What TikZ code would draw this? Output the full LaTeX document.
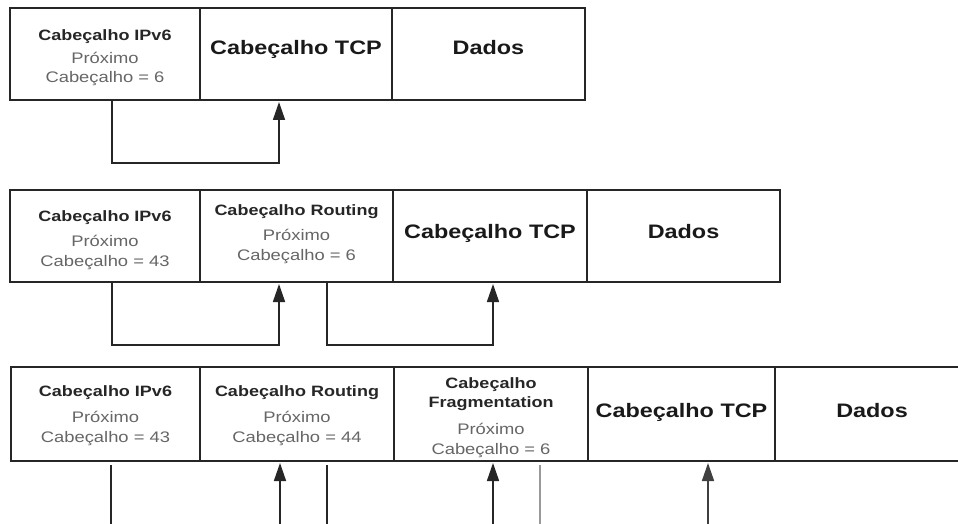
\documentclass[tikz,border=0pt]{standalone}
\usepackage{fontspec}
\setmainfont{Liberation Sans}[FakeStretch=1.2]
\usetikzlibrary{arrows.meta,calc}
\tikzset{
  cell/.style={draw=black!85, line width=1.8pt, rectangle, anchor=north west, inner sep=0pt, outer sep=0pt, minimum height=92pt},
  hd/.style={anchor=base, inner sep=0pt, font=\fontsize{15}{18}\selectfont\bfseries, text=black!85},
  sub/.style={anchor=base, inner sep=0pt, font=\fontsize{15.3}{18}\selectfont, text=black!60},
  big/.style={anchor=base, inner sep=0pt, font=\fontsize{19.5}{22}\selectfont\bfseries, text=black!90},
  conn/.style={draw=black!85, line width=1.6pt},
  arr/.style={conn, -{Triangle[length=18pt,width=12pt]}},
}
\begin{document}
\begin{tikzpicture}[x=1pt,y=-1pt]
\fill[white] (0,0) rectangle (958,524);
\useasboundingbox (0,0) rectangle (958,524);
\clip (0,0) rectangle (958,524);
% ---------- row 1 ----------
\node[cell, minimum width=190pt] (r1a) at (10,8) {};
\node[cell, minimum width=192pt] (r1b) at (200,8) {};
\node[cell, minimum width=193pt] (r1c) at (392,8) {};
\node[hd]  (t1a1) at ($(r1a.north)+(0,33)$) {Cabeçalho IPv6};
\node[sub] (t1a2) at ($(r1a.north)+(0,56)$) {Próximo};
\node[sub] (t1a3) at ($(r1a.north)+(0,75)$) {Cabeçalho = 6};
\node[big] (t1b)  at ($(r1b.north)+(0,47)$) {Cabeçalho TCP};
\node[big] (t1c)  at ($(r1c.north)+(0,47)$) {Dados};
\draw[arr] ([xshift=102pt]r1a.south west) -- ++(0,63) -| ([xshift=79pt,yshift=-2pt]r1b.south west);
% ---------- row 2 ----------
\node[cell, minimum width=190pt] (r2a) at (10,190) {};
\node[cell, minimum width=193pt] (r2b) at (200,190) {};
\node[cell, minimum width=194pt] (r2c) at (393,190) {};
\node[cell, minimum width=193pt] (r2d) at (587,190) {};
\node[hd]  (t2a1) at ($(r2a.north)+(0,31)$) {Cabeçalho IPv6};
\node[sub] (t2a2) at ($(r2a.north)+(0,56)$) {Próximo};
\node[sub] (t2a3) at ($(r2a.north)+(0,76)$) {Cabeçalho = 43};
\node[hd]  (t2b1) at ($(r2b.north)+(0,25)$) {Cabeçalho Routing};
\node[sub] (t2b2) at ($(r2b.north)+(0,50)$) {Próximo};
\node[sub] (t2b3) at ($(r2b.north)+(0,70)$) {Cabeçalho = 6};
\node[big] (t2c)  at ($(r2c.north)+(0,48)$) {Cabeçalho TCP};
\node[big] (t2d)  at ($(r2d.north)+(0,48)$) {Dados};
\draw[arr] ([xshift=102pt]r2a.south west) -- ++(0,63) -| ([xshift=79pt,yshift=-2pt]r2b.south west);
\draw[arr] ([xshift=127pt]r2b.south west) -- ++(0,63) -| ([xshift=100pt,yshift=-2pt]r2c.south west);
% ---------- row 3 ----------
\node[cell, minimum width=189pt, minimum height=94pt] (r3a) at (11,367) {};
\node[cell, minimum width=194pt, minimum height=94pt] (r3b) at (200,367) {};
\node[cell, minimum width=194pt, minimum height=94pt] (r3c) at (394,367) {};
\node[cell, minimum width=187pt, minimum height=94pt] (r3d) at (588,367) {};
\node[cell, minimum width=200pt, minimum height=94pt] (r3e) at (775,367) {};
\node[hd]  (t3a1) at ($(r3a.north)+(0,29)$) {Cabeçalho IPv6};
\node[sub] (t3a2) at ($(r3a.north)+(0,55)$) {Próximo};
\node[sub] (t3a3) at ($(r3a.north)+(0,75)$) {Cabeçalho = 43};
\node[hd]  (t3b1) at ($(r3b.north)+(0,29)$) {Cabeçalho Routing};
\node[sub] (t3b2) at ($(r3b.north)+(0,55)$) {Próximo};
\node[sub] (t3b3) at ($(r3b.north)+(0,75)$) {Cabeçalho = 44};
\node[hd]  (t3c1) at ($(r3c.north)+(0,21)$) {Cabeçalho};
\node[hd]  (t3c2) at ($(r3c.north)+(0,40)$) {Fragmentation};
\node[sub] (t3c3) at ($(r3c.north)+(0,67)$) {Próximo};
\node[sub] (t3c4) at ($(r3c.north)+(0,87)$) {Cabeçalho = 6};
\node[big] (t3d)  at ($(r3d.north)+(0,50)$) {Cabeçalho TCP};
\node[big] (t3e)  at (872,417) {Dados};
\coordinate (b1) at (111,524);
\coordinate (b2) at (280,524);
\coordinate (b3) at (327,524);
\coordinate (b4) at (493,524);
\coordinate (b5) at (540,524);
\coordinate (b6) at (708,524);
\draw[conn] ($(r3a.south west)+(100,4)$) -- (b1);
\draw[arr] (b2) -- ([xshift=80pt,yshift=-2pt]r3b.south west);
\draw[conn] ($(r3b.south west)+(127,4)$) -- (b3);
\draw[arr] (b4) -- ([xshift=99pt,yshift=-2pt]r3c.south west);
\draw[conn, draw=black!40] ($(r3c.south west)+(146,4)$) -- (b5);
\draw[arr, draw=black!75, fill=black!75] (b6) -- ([xshift=120pt,yshift=-2pt]r3d.south west);
\end{tikzpicture}
\end{document}
